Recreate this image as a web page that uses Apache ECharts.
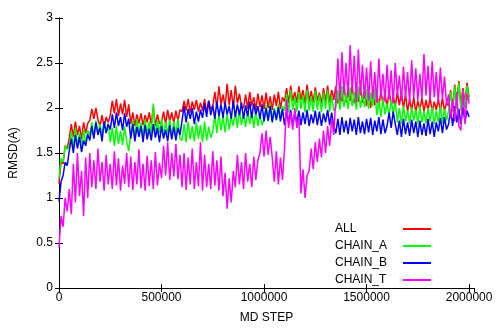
<!DOCTYPE html>
<html>
<head>
<meta charset="utf-8">
<script src="https://cdn.jsdelivr.net/npm/echarts@6/dist/echarts.min.js"></script>
<style>
html,body{margin:0;padding:0;background:#fff;}
#c{width:496px;height:329px;}
</style>
</head>
<body>
<div id="c"></div>
<script>
// Sampling grid: one value every 10000 MD steps, from 0 to 2,000,000
const STEP_SIZE = 10000;
const xTicks = [0, 500000, 1000000, 1500000, 2000000];
const yTicks = [0, 0.5, 1, 1.5, 2, 2.5, 3];
const seriesNames = ['ALL', 'CHAIN_A', 'CHAIN_B', 'CHAIN_T'];

const ALL = [
1.16,1.40,1.38,1.58,1.55,
1.66,1.82,1.68,1.85,1.70,1.80,1.65,1.84,1.72,1.83,
1.86,1.99,1.88,2.00,1.87,
1.80,1.92,1.78,1.90,1.84,
1.92,2.08,1.94,2.10,1.91,2.05,1.93,2.09,1.90,2.04,
1.82,1.95,1.80,1.93,1.83,1.94,1.81,1.92,1.84,1.95,1.82,2.01,1.80,1.93,1.83,
1.84,1.96,1.82,1.98,1.85,1.95,1.83,1.97,1.86,1.98,
1.96,2.08,1.97,2.10,1.95,2.07,1.98,2.09,1.96,2.06,1.97,2.10,1.95,2.08,1.99,
2.02,2.18,2.00,2.24,2.04,2.15,2.01,2.27,2.03,2.20,2.00,2.25,2.05,2.16,2.02,
2.00,2.15,1.99,2.18,2.02,2.12,1.98,2.16,2.01,2.14,1.99,2.17,2.00,2.13,1.98,2.15,2.02,2.18,1.99,2.12,
2.07,2.22,2.05,2.25,2.08,2.18,2.06,2.24,2.09,2.20,
2.05,2.26,2.07,2.19,2.06,2.23,2.08,2.17,2.05,2.22,
2.07,2.25,2.06,2.20,2.09,2.24,2.05,2.18,2.07,2.26,
2.06,2.21,2.08,2.25,2.05,2.19,2.07,2.23,2.06,2.20,
2.02,2.18,2.00,2.20,2.03,2.15,2.01,2.19,2.04,2.16,2.00,2.20,2.02,2.14,2.01,2.18,2.03,2.17,2.00,2.15,
1.96,2.10,1.97,2.12,1.95,2.08,1.98,2.11,1.96,2.09,1.97,2.12,1.95,2.07,1.98,2.10,1.96,2.11,1.97,2.06,
2.02,2.20,2.00,2.26,2.05,2.30,2.03,2.22,2.06,2.28,2.12
];

const CHAIN_A = [
1.22,1.44,1.40,1.58,1.54,
1.57,1.74,1.55,1.78,1.58,1.72,1.56,1.76,1.60,1.75,
1.70,1.84,1.68,1.86,1.71,1.82,1.69,1.85,1.72,1.83,
1.62,1.78,1.58,1.80,1.60,1.75,1.59,1.79,1.63,1.52,
1.70,1.86,1.68,1.88,1.72,1.84,1.69,1.87,1.71,1.85,1.70,2.05,1.68,1.86,1.72,1.88,1.69,1.84,1.71,1.87,1.68,1.85,1.70,1.88,1.66,
1.64,1.82,1.62,1.85,1.65,1.80,1.63,1.84,1.66,1.81,1.62,1.85,1.64,1.79,1.67,
1.74,1.92,1.72,1.95,1.75,1.90,1.73,1.94,1.76,1.91,
1.80,1.96,1.78,1.98,1.81,1.94,1.79,1.97,1.82,1.95,1.78,1.98,1.80,1.93,1.81,
1.87,2.03,1.85,2.05,1.88,2.00,1.86,2.04,1.89,2.02,
1.97,2.16,1.95,2.20,1.98,2.12,1.96,2.18,1.99,2.14,1.95,2.20,1.97,2.13,1.96,2.19,1.98,2.15,1.95,2.17,1.99,2.20,1.96,2.14,1.97,
2.00,2.20,1.98,2.25,2.01,2.16,1.99,2.23,2.02,2.18,1.98,2.24,2.00,2.15,2.01,2.21,1.99,2.17,2.02,2.22,
1.92,2.08,1.90,2.10,1.93,2.05,1.91,2.09,1.94,2.06,
1.84,2.00,1.82,2.02,1.85,1.97,1.83,2.01,1.86,1.98,1.82,2.02,1.84,1.96,1.83,2.00,1.85,2.01,1.82,1.97,1.84,2.02,1.83,1.99,1.86,
1.97,2.18,1.95,2.24,1.99,2.28,1.97,2.20,2.00,2.25,2.08
];

const CHAIN_B = [
0.96,1.18,1.25,1.40,1.36,
1.52,1.66,1.50,1.70,1.55,1.68,1.51,1.64,1.58,1.71,
1.64,1.80,1.66,1.84,1.70,1.78,1.63,1.85,1.72,1.82,
1.76,1.93,1.78,1.95,1.80,1.90,1.75,1.94,1.79,1.88,
1.66,1.82,1.63,1.79,1.68,1.80,1.62,1.81,1.65,1.77,1.64,1.82,1.67,1.78,1.62,1.80,1.66,1.76,1.63,1.81,1.65,1.79,1.64,1.78,1.70,
1.86,2.02,1.84,1.99,1.88,2.00,1.82,1.96,1.85,1.98,
1.89,2.05,1.90,2.08,1.92,2.03,1.88,2.07,1.91,2.04,1.89,2.06,1.93,2.02,1.88,2.08,1.90,2.04,1.92,2.06,1.88,2.03,1.91,2.07,1.89,2.05,1.93,2.02,1.88,2.04,
1.85,2.00,1.86,2.02,1.84,1.98,1.87,2.01,1.85,1.99,
1.81,1.96,1.83,1.98,1.80,1.94,1.84,1.97,1.81,1.95,1.82,1.98,1.80,1.93,1.83,1.97,1.81,1.96,1.80,1.94,1.84,1.98,1.81,1.95,1.80,
1.72,1.88,1.70,1.90,1.73,1.86,1.71,1.89,1.74,1.87,1.70,1.90,1.72,1.85,1.71,1.88,1.73,1.89,1.70,1.86,1.74,1.90,1.71,1.87,1.72,
1.80,1.95,1.78,1.96,1.82,
1.70,1.86,1.68,1.88,1.71,1.84,1.69,1.87,1.72,1.85,1.68,1.86,1.70,1.83,1.69,1.88,1.71,1.85,1.68,1.84,
1.74,1.89,1.72,1.90,1.76,
1.82,1.98,1.80,2.02,1.84,1.99,1.82,2.01,1.85,1.97,1.90
];

const CHAIN_T = [
0.45,0.80,0.68,1.00,0.85,
1.10,0.82,1.38,0.95,1.50,1.02,1.30,0.80,1.45,1.00,
1.50,1.12,1.42,1.10,1.55,1.18,1.40,1.08,1.48,1.15,
1.38,1.10,1.52,1.14,1.44,1.08,1.36,1.16,1.50,1.12,
1.46,1.09,1.40,1.15,1.54,1.11,1.38,1.08,1.47,1.13,
1.42,1.10,1.51,1.14,1.39,
1.22,1.58,1.25,1.62,1.20,1.50,1.24,1.60,1.21,1.48,
1.12,1.50,1.09,1.45,1.15,1.55,1.10,1.40,1.13,1.62,1.08,1.48,1.12,1.38,1.10,1.52,1.14,1.42,1.08,1.46,
1.02,1.28,0.88,1.22,0.95,
1.30,1.12,1.48,1.15,1.40,1.10,1.50,1.18,1.38,1.12,1.46,1.20,1.42,
1.50,1.72,1.46,1.75,1.48,1.68,1.45,
1.18,1.52,1.15,1.45,1.20,1.55,
2.10,1.78,
1.95,1.76,2.00,1.78,1.90,
1.05,1.32,1.00,1.25,
1.30,1.55,1.32,1.62,1.40,1.66,1.45,1.75,1.50,1.80,1.58,1.88,1.70,
2.10,2.55,2.08,2.62,2.15,2.50,2.12,2.70,2.18,2.58,2.06,2.65,2.14,2.48,2.10,
2.45,2.08,2.52,2.10,2.40,2.06,2.55,2.12,2.38,2.07,
2.48,2.10,2.42,2.05,2.50,2.14,2.36,2.08,2.46,2.11,
2.40,2.06,2.53,2.12,2.44,2.08,2.38,2.10,2.60,2.14,
2.47,2.08,2.52,2.12,2.40,2.06,2.45,2.10,2.35,2.04,
2.15,1.88,2.10,1.85,2.18,1.80,1.75,2.20,1.82,2.16,2.05
];

const colors = ['#ff0000', '#00ff00', '#0000ff', '#ff00ff'];
const values = [ALL, CHAIN_A, CHAIN_B, CHAIN_T];

const FONT = 'Liberation Sans, Arial, Helvetica, sans-serif';
const X_MAX = 2024000;

function pairs(arr) {
  return arr.map((v, i) => [i * STEP_SIZE, v]);
}

const chart = echarts.init(document.getElementById('c'), null, {renderer: 'canvas'});
const tickStyle = {show: true, inside: true, length: 4, lineStyle: {color: '#000', width: 1}};
const lineStyleAxis = {show: true, lineStyle: {color: '#000', width: 1}};

chart.setOption({
  animation: false,
  backgroundColor: '#fff',
  grid: {left: 56, right: 22, top: 18, bottom: 30, containLabel: false},
  legend: {
    orient: 'vertical',
    left: 330,
    top: 218,
    align: 'right',
    itemGap: 5,
    itemWidth: 28,
    itemHeight: 2,
    icon: 'rect',
    data: seriesNames,
    formatter: (n) => '{t|' + n + '}',
    textStyle: {
      fontFamily: FONT, fontSize: 12, color: '#000',
      rich: {t: {width: 63, align: 'left', lineHeight: 13, fontFamily: FONT, fontSize: 12, color: '#000'}}
    }
  },
  xAxis: [{
    type: 'value', min: 0, max: X_MAX, interval: 500000,
    position: 'bottom',
    name: 'MD STEP', nameLocation: 'middle', nameGap: 24,
    nameTextStyle: {fontFamily: FONT, fontSize: 12, color: '#000'},
    axisLine: lineStyleAxis, axisTick: tickStyle,
    splitLine: {show: false},
    axisLabel: {
      show: true, margin: 4, fontFamily: FONT, fontSize: 12, color: '#000',
      showMaxLabel: false,
      formatter: (v) => xTicks.indexOf(v) >= 0 ? String(v) : ''
    }
  }, {
    type: 'value', min: 0, max: X_MAX, interval: 500000,
    position: 'top',
    axisLine: lineStyleAxis, axisTick: tickStyle,
    splitLine: {show: false}, axisLabel: {show: false}
  }],
  yAxis: [{
    type: 'value', min: 0, max: 3, interval: 0.5,
    position: 'left',
    name: 'RMSD(A)', nameLocation: 'middle', nameGap: 39, nameRotate: 90,
    nameTextStyle: {fontFamily: FONT, fontSize: 12, color: '#000'},
    axisLine: lineStyleAxis, axisTick: tickStyle,
    splitLine: {show: false},
    axisLabel: {
      margin: 6, fontFamily: FONT, fontSize: 12, color: '#000',
      formatter: (v) => yTicks.indexOf(v) >= 0 ? String(v) : ''
    }
  }, {
    type: 'value', min: 0, max: 3, interval: 0.5,
    position: 'right',
    axisLine: lineStyleAxis, axisTick: tickStyle,
    splitLine: {show: false}, axisLabel: {show: false}
  }],
  series: seriesNames.map((name, k) => ({
    name: name,
    type: 'line',
    xAxisIndex: 0,
    yAxisIndex: 0,
    data: pairs(values[k]),
    showSymbol: false,
    symbol: 'none',
    color: colors[k],
    lineStyle: {color: colors[k], width: 1.5},
    emphasis: {disabled: true},
    z: 2 + k
  }))
});
</script>
</body>
</html>
